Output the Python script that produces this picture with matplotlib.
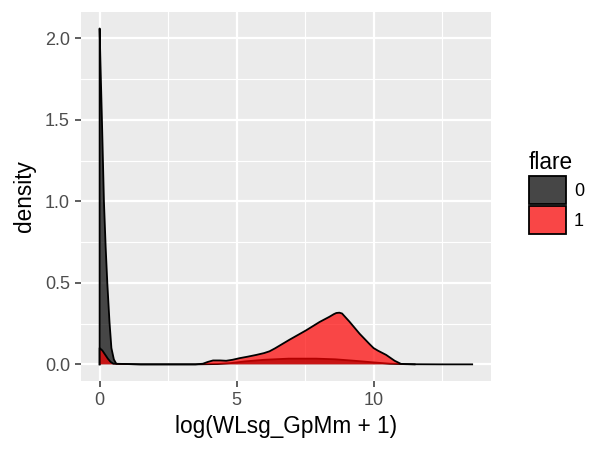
import matplotlib
matplotlib.use("Agg")
import matplotlib.pyplot as plt
from matplotlib.patches import Patch

plt.rcParams['font.family'] = ['Liberation Sans', 'DejaVu Sans']

# density curves (x = log(WLsg_GpMm + 1))
x0 = [0.0, 0.0, 0.03, 0.084, 0.157, 0.22, 0.28, 0.36, 0.43, 0.52, 0.61, 1.5, 3.5, 4.3,
      4.8, 5.3, 6.0, 6.9, 7.9, 8.6, 9.3, 10.0, 10.6, 11.2, 12.5, 13.6]
d0 = [0.0, 2.06, 1.85, 1.5, 1.0, 0.72, 0.5, 0.26, 0.1, 0.03, 0.003, 0.0, 0.0, 0.002,
      0.008, 0.018, 0.028, 0.035, 0.035, 0.031, 0.022, 0.012, 0.004, 0.001, 0.0, 0.0]

x1 = [0.0, 0.0, 0.1, 0.2, 0.3, 0.4, 0.5, 1.5, 3.5, 3.77, 3.95, 4.14, 4.4, 4.62, 4.85,
      5.11, 5.4, 5.72, 6.0, 6.2, 6.4, 6.57, 6.93, 7.54, 8.03, 8.39, 8.55, 8.64, 8.75,
      8.85, 9.12, 9.49, 9.85, 10.0, 10.16, 10.46, 10.77, 11.0, 11.5]
d1 = [0.0, 0.1, 0.085, 0.06, 0.035, 0.015, 0.004, 0.0, 0.0, 0.004, 0.015, 0.024, 0.024,
      0.022, 0.028, 0.038, 0.047, 0.058, 0.069, 0.08, 0.098, 0.115, 0.151, 0.209, 0.26,
      0.292, 0.308, 0.315, 0.317, 0.312, 0.262, 0.188, 0.125, 0.1, 0.084, 0.058, 0.022,
      0.003, 0.0]

groups = ['0', '1']
fills = ['#000000', '#FF0000']

fig = plt.figure(figsize=(6, 4.5), dpi=100)
ax = fig.add_axes([0.135, 0.153, 0.683, 0.821])
ax.set_facecolor('#EBEBEB')

for xs, ds, c in [(x0, d0, fills[0]), (x1, d1, fills[1])]:
    ax.fill_between(xs, ds, 0, facecolor=c, alpha=0.7, linewidth=0, zorder=3)
    ax.plot(xs, ds, color='black', lw=1.3, zorder=3, solid_joinstyle='round')

ax.set_xlim(-0.68, 14.28)
ax.set_ylim(-0.103, 2.163)
ax.set_xticks([0, 5, 10])
ax.set_yticks([0.0, 0.5, 1.0, 1.5, 2.0])
ax.set_yticklabels(['0.0', '0.5', '1.0', '1.5', '2.0'])
ax.set_xticks([2.5, 7.5, 12.5], minor=True)
ax.set_yticks([0.25, 0.75, 1.25, 1.75], minor=True)
ax.grid(which='major', color='white', lw=1.6, zorder=0)
ax.grid(which='minor', color='white', lw=0.8, zorder=0)
ax.set_axisbelow(True)
for s in ax.spines.values():
    s.set_visible(False)
ax.tick_params(which='major', length=4, width=1.1, color='#333333',
               labelsize=13, labelcolor='#4D4D4D', pad=4)
ax.tick_params(which='minor', length=0)

ax.set_xlabel('log(WLsg_GpMm + 1)', fontsize=16.3, labelpad=4)
ax.set_ylabel('density', fontsize=16.3, labelpad=6)

handles = [Patch(facecolor='#464646', edgecolor='black', lw=1.3),
           Patch(facecolor='#F94646', edgecolor='black', lw=1.3)]
leg = fig.legend(handles, groups, title='flare', loc='upper left',
                 bbox_to_anchor=(0.866, 0.685), frameon=False, fontsize=13,
                 title_fontsize=16.3, handlelength=2.05, handleheight=2.05,
                 handletextpad=0.45, labelspacing=0.1, borderpad=0)
leg._legend_box.align = 'left'

fig.savefig('out.png', dpi=100)
